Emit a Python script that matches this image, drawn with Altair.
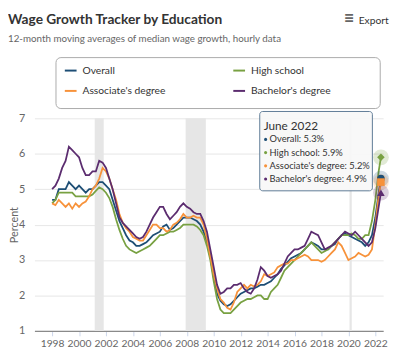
import altair as alt
import pandas as pd

FONT = "Lato, Roboto, sans-serif"

series = ["Overall", "High school", "Associate's degree", "Bachelor's degree"]
colors = ["#1d4e75", "#78a142", "#f7923a", "#5b2c6f"]
marker_shapes = ["circle", "diamond", "square", "triangle-up"]
# legend fills column by column: Overall / Associate's, then High school / Bachelor's
legend_order = ["Overall", "Associate's degree", "High school", "Bachelor's degree"]

# quarterly observations 1998Q1 .. 2021Q4, then Jan, Apr, Jun 2022
dates = [f"{y}-{m:02d}-01" for y in range(1998, 2022) for m in (1, 4, 7, 10)] + [
    "2022-01-01", "2022-04-01", "2022-06-01"]

overall = [
    4.7, 4.7, 5.0, 5.0, 5.0, 5.2, 5.1, 5.0, 5.1, 5.0, 4.9, 5.0,
    5.0, 5.1, 5.2, 5.2, 5.1, 5.0, 4.7, 4.4, 4.1, 3.9, 3.7, 3.55,
    3.5, 3.4, 3.4, 3.45, 3.5, 3.6, 3.7, 3.75, 3.8, 3.95, 4.0, 3.85,
    3.9, 4.0, 4.1, 4.2, 4.2, 4.2, 4.15, 4.1, 4.0, 3.8, 3.5, 3.1,
    2.5, 2.05, 1.85, 1.75, 1.7, 1.75, 1.85, 1.95, 2.05, 2.1, 2.15, 2.2,
    2.2, 2.25, 2.3, 2.3, 2.35, 2.4, 2.5, 2.6, 2.75, 2.85, 2.95, 3.05,
    3.1, 3.15, 3.2, 3.3, 3.4, 3.5, 3.45, 3.4, 3.3, 3.3, 3.3, 3.4,
    3.45, 3.6, 3.7, 3.75, 3.7, 3.65, 3.6, 3.55, 3.5, 3.4, 3.5, 3.7,
    4.2, 4.9, 5.3]
high_school = [
    4.6, 4.7, 4.9, 4.9, 4.9, 4.9, 4.9, 4.8, 4.8, 4.8, 4.8, 4.8,
    4.85, 4.95, 5.05, 5.0, 4.9, 4.75, 4.5, 4.15, 3.85, 3.6, 3.4, 3.3,
    3.25, 3.2, 3.25, 3.3, 3.35, 3.4, 3.5, 3.6, 3.7, 3.7, 3.75, 3.8,
    3.8, 3.85, 3.9, 4.0, 4.0, 4.0, 4.0, 3.95, 3.85, 3.7, 3.4, 3.0,
    2.4, 1.9, 1.6, 1.5, 1.5, 1.5, 1.6, 1.7, 1.8, 1.85, 1.9, 1.9,
    1.95, 2.0, 2.0, 1.9, 1.9, 2.1, 2.2, 2.3, 2.5, 2.7, 2.8, 2.9,
    3.0, 3.1, 3.2, 3.3, 3.4, 3.5, 3.4, 3.3, 3.2, 3.25, 3.3, 3.4,
    3.5, 3.6, 3.7, 3.7, 3.7, 3.75, 3.7, 3.6, 3.6, 3.7, 3.7, 4.1,
    4.7, 5.5, 5.9]
associates = [
    4.6, 4.55, 4.7, 4.6, 4.5, 4.6, 4.45, 4.6, 4.5, 4.6, 4.65, 4.8,
    5.0, 5.1, 5.3, 5.6, 5.5, 5.3, 5.0, 4.7, 4.3, 4.05, 3.9, 3.8,
    3.65, 3.6, 3.55, 3.55, 3.7, 3.85, 4.0, 4.0, 3.9, 3.9, 3.8, 3.85,
    4.0, 4.05, 4.15, 4.3, 4.2, 4.2, 4.25, 4.2, 4.2, 4.0, 3.6, 3.1,
    2.6, 2.2, 1.9, 1.8, 1.65, 1.6, 1.8, 2.1, 2.2, 2.3, 2.2, 2.3,
    2.25, 2.3, 2.4, 2.6, 2.55, 2.6, 2.65, 2.8, 2.85, 2.9, 2.9, 3.0,
    3.0, 3.05, 3.1, 3.15, 3.1, 3.0, 3.0, 3.0, 2.95, 3.0, 3.1, 3.2,
    3.3, 3.5, 3.4, 3.2, 3.0, 3.05, 3.1, 3.2, 3.15, 3.1, 3.15, 3.3,
    4.0, 4.8, 5.2]
bachelors = [
    5.0, 5.1, 5.3, 5.6, 5.8, 6.2, 6.1, 6.0, 5.9, 5.6, 5.4, 5.4,
    5.5, 5.5, 5.8, 5.75, 5.6, 5.3, 5.0, 4.6, 4.2, 4.05, 3.95, 3.85,
    3.75, 3.65, 3.6, 3.65, 3.8, 4.0, 4.2, 4.35, 4.5, 4.5, 4.3, 4.15,
    4.25, 4.35, 4.5, 4.6, 4.5, 4.45, 4.35, 4.3, 4.3, 4.1, 3.8, 3.3,
    2.8, 2.3, 2.05, 2.1, 2.2, 2.2, 2.3, 2.3, 2.35, 2.2, 2.1, 2.05,
    2.2, 2.45, 2.8, 2.7, 2.55, 2.5, 2.55, 2.6, 2.7, 2.9, 3.1, 3.2,
    3.3, 3.3, 3.35, 3.4, 3.6, 3.8, 3.75, 3.7, 3.5, 3.3, 3.35, 3.4,
    3.5, 3.6, 3.7, 3.8, 3.75, 3.7, 3.8, 3.7, 3.6, 3.5, 3.4, 3.5,
    3.9, 4.5, 4.9]
values = [overall, high_school, associates, bachelors]

rec_start = ["2001-03-01", "2007-12-01", "2020-02-01"]
rec_end = ["2001-11-01", "2009-06-01", "2020-04-01"]

year_ticks = list(range(1998, 2023, 2))
y_ticks = [1, 2, 3, 4, 5, 6, 7]
x_domain = [alt.DateTime(year=1996, month=9, date=9), alt.DateTime(year=2022, month=8, date=1)]

title_text = "Wage Growth Tracker by Education"
subtitle_text = "12-month moving averages of median wage growth, hourly data"
tip_header = "June 2022"

W, H = 356, 217

rows = []
for name, vals in zip(series, values):
    for d, v in zip(dates, vals):
        rows.append({"date": d, "value": v, "series": name})
lines_df = pd.DataFrame(rows)

end_df = pd.DataFrame({
    "date": [dates[-1]] * 4,
    "value": [v[-1] for v in values],
    "series": series,
    "color": colors,
    "shape": marker_shapes,
})
end_df["label"] = [f"{s}: {v}%" for s, v in zip(series, end_df["value"])]

rec_df = pd.DataFrame({"start": rec_start, "end": rec_end})

x_axis = alt.Axis(
    values=[alt.DateTime(year=y, month=1, date=1) for y in year_ticks],
    format="%Y", grid=False, domain=True, domainColor="#8a8a8a", domainWidth=1.5,
    ticks=True, tickColor="#ccd6eb", tickSize=5, labelPadding=3, labelOverlap=False,
    labelColor="#666", labelFontSize=10.5, labelFont=FONT, title=None,
)
y_axis = alt.Axis(
    values=y_ticks, grid=True, gridColor="#e6e6e6", domain=False, ticks=False,
    labelPadding=10, labelColor="#666", labelFontSize=11, labelFont=FONT, labelOverlap=False,
    title="Percent", titleColor="#666", titleFontSize=11, titleFont=FONT,
    titleFontWeight="normal", titleX=-20, titleY=H / 2, titleAngle=-90,
    titleAlign="center", titleBaseline="middle",
)
xs = alt.Scale(domain=x_domain, nice=False)
ys = alt.Scale(domain=[1, 7], nice=False)

X_date = alt.X("date:T", scale=xs, axis=x_axis, title=None)
Y_val = alt.Y("value:Q", scale=ys, axis=y_axis, title="Percent")

legend = alt.Legend(
    orient="none", legendX=21, legendY=-65, columns=2, title=None,
    symbolType="stroke", symbolSize=144, symbolStrokeWidth=2, symbolOpacity=1,
    labelFont=FONT, labelFontSize=10.5, labelColor="#333", labelOffset=5,
    padding=9, rowPadding=8, columnPadding=65, labelLimit=400,
)

legend_box = alt.Chart(pd.DataFrame({"k": [0]})).mark_rect(
    fill="white", fillOpacity=0, stroke="#aaaaaa", strokeWidth=1, cornerRadius=5,
).encode(x=alt.value(22), x2=alt.value(353), y=alt.value(-62), y2=alt.value(-10))

bands = alt.Chart(rec_df).mark_rect(color="#e6e6e6").encode(
    x=alt.X("start:T", scale=xs, axis=x_axis, title=None),
    x2="end:T",
    y=alt.value(0), y2=alt.value(H),
)

lines = alt.Chart(lines_df).mark_line(strokeWidth=1.8, opacity=1).encode(
    x=X_date, y=Y_val,
    color=alt.Color(
        "series:N",
        scale=alt.Scale(domain=legend_order,
                        range=[colors[series.index(s)] for s in legend_order]),
        legend=legend,
    ),
    detail="series:N",
)

halo = alt.Chart(end_df).mark_circle(size=260, opacity=1, fillOpacity=0.22).encode(
    x=X_date, y=Y_val, fill=alt.Fill("color:N", scale=None),
)
markers = alt.Chart(end_df).mark_point(filled=True, size=60, opacity=1).encode(
    x=X_date, y=Y_val,
    fill=alt.Fill("color:N", scale=None),
    shape=alt.Shape("shape:N", scale=None),
)

tip_box = alt.Chart(pd.DataFrame({"k": [0]})).mark_rect(
    fill="#f7f7f7", fillOpacity=0.92, stroke="#5d7a94", strokeWidth=1, cornerRadius=3,
).encode(x=alt.value(230), x2=alt.value(345), y=alt.value(-7), y2=alt.value(74))

tip_head = alt.Chart(pd.DataFrame({"t": [tip_header]})).mark_text(
    align="left", baseline="middle", fontSize=12, color="#333", font=FONT,
).encode(text="t:N", x=alt.value(234), y=alt.value(8))

tip_layers = []
for i in range(len(series)):
    sub = end_df.iloc[[i]]
    yy = 21.5 + i * 13.5
    tip_layers.append(alt.Chart(sub).mark_circle(size=10, opacity=1).encode(
        x=alt.value(236), y=alt.value(yy), fill=alt.Fill("color:N", scale=None)))
    tip_layers.append(alt.Chart(sub).mark_text(
        align="left", baseline="middle", fontSize=9.5, color="#333", font=FONT,
    ).encode(text="label:N", x=alt.value(240), y=alt.value(yy)))

title = alt.Chart(pd.DataFrame({"t": [title_text]})).mark_text(
    align="left", baseline="alphabetic", fontSize=14, fontWeight="bold", color="#333", font=FONT,
).encode(text="t:N", x=alt.value(-27), y=alt.value(-96))
subtitle = alt.Chart(pd.DataFrame({"t": [subtitle_text]})).mark_text(
    align="left", baseline="alphabetic", fontSize=10, color="#666", font=FONT,
).encode(text="t:N", x=alt.value(-27), y=alt.value(-78))
export_icon = alt.Chart(pd.DataFrame({"t": ["≡"]})).mark_text(
    align="left", baseline="middle", fontSize=18, fontWeight="bold", color="#666", font=FONT,
).encode(text="t:N", x=alt.value(316), y=alt.value(-101))
export_txt = alt.Chart(pd.DataFrame({"t": ["Export"]})).mark_text(
    align="left", baseline="alphabetic", fontSize=10.5, color="#333", font=FONT,
).encode(text="t:N", x=alt.value(331), y=alt.value(-96))

chart = alt.layer(
    bands, lines, halo, markers, legend_box, tip_box, tip_head, *tip_layers,
    title, subtitle, export_icon, export_txt,
).properties(
    width=W, height=H,
    autosize=alt.AutoSizeParams(type="none"),
    padding={"left": 27, "top": 109, "right": 8, "bottom": 22},
).configure_view(stroke=None)

chart.save("out.html", embed_options={"renderer": "svg", "actions": False})
